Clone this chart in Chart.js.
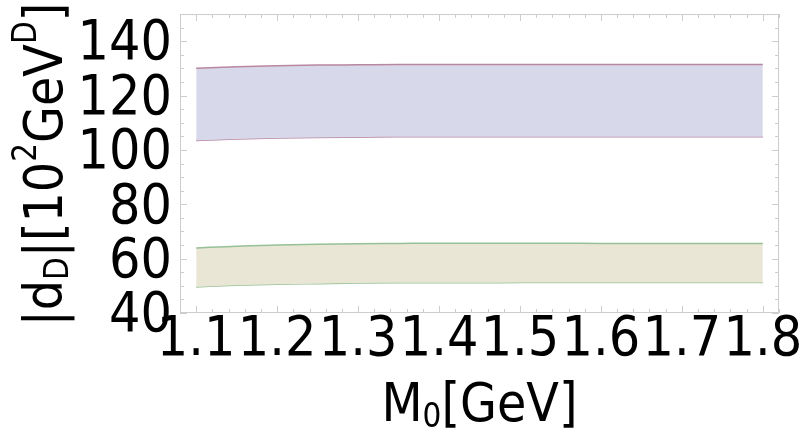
<!DOCTYPE html>
<html>
<head>
<meta charset="utf-8">
<script src="https://cdn.jsdelivr.net/npm/chart.js@4.4.1/dist/chart.umd.min.js"></script>
<style>
  html, body { margin: 0; padding: 0; background: #ffffff; }
  #wrap { width: 804px; height: 436px; }
</style>
</head>
<body>
<div id="wrap"><canvas id="c" width="804" height="436"></canvas></div>
<script>
// M0 values (GeV)
const mass = [1.10, 1.15, 1.20, 1.25, 1.30, 1.35, 1.40, 1.45, 1.50, 1.55, 1.60, 1.65, 1.70, 1.75, 1.80];

// |d_D| band, upper family (10^2 GeV^D)
const bandAUpper = [130.0, 130.6, 131.0, 131.2, 131.3, 131.4, 131.4, 131.4, 131.4, 131.4, 131.4, 131.4, 131.4, 131.4, 131.4];
const bandALower = [103.5, 104.0, 104.4, 104.6, 104.7, 104.8, 104.8, 104.8, 104.8, 104.8, 104.8, 104.8, 104.8, 104.8, 104.8];

// |d_D| band, lower family (10^2 GeV^D)
const bandBUpper = [63.9, 64.6, 65.0, 65.3, 65.5, 65.6, 65.7, 65.7, 65.7, 65.7, 65.6, 65.6, 65.6, 65.6, 65.6];
const bandBLower = [49.6, 50.2, 50.6, 50.8, 51.0, 51.1, 51.1, 51.1, 51.2, 51.2, 51.2, 51.2, 51.2, 51.2, 51.2];

// Axis ticks
const xTicks = [1.1, 1.2, 1.3, 1.4, 1.5, 1.6, 1.7, 1.8];
const yTicks = [40, 60, 80, 100, 120, 140];

const FONT = '"DejaVu Sans Condensed", "DejaVu Sans", sans-serif';
const FONT_SIZE = 55;
const TITLE_SIZE = 53;

const pts = (ys) => mass.map((m, i) => ({ x: m, y: ys[i] }));

// Frame with inward major/minor ticks on all four sides
const framePlugin = {
  id: 'frame',
  afterDatasetsDraw(chart) {
    const { ctx, chartArea: a, scales } = chart;
    const xs = scales.x, ys = scales.y;
    ctx.save();
    ctx.strokeStyle = 'rgb(205,205,205)';
    ctx.lineWidth = 1;
    ctx.strokeRect(a.left + 0.5, a.top + 0.5, a.right - a.left - 1, a.bottom - a.top - 1);
    ctx.beginPath();
    for (let v = 1.08; v <= 1.8201; v += 0.02) {
      const major = Math.abs(v * 10 - Math.round(v * 10)) < 1e-6;
      const len = major ? 7 : 4;
      const px = Math.round(xs.getPixelForValue(v)) + 0.5;
      ctx.moveTo(px, a.bottom); ctx.lineTo(px, a.bottom - len);
      ctx.moveTo(px, a.top); ctx.lineTo(px, a.top + len);
    }
    for (let v = 40; v <= 150; v += 5) {
      const major = v % 20 === 0;
      const len = major ? 7 : 4;
      const py = Math.round(ys.getPixelForValue(v)) + 0.5;
      ctx.moveTo(a.left, py); ctx.lineTo(a.left + len, py);
      ctx.moveTo(a.right, py); ctx.lineTo(a.right - len, py);
    }
    ctx.stroke();
    ctx.restore();
  }
};

// Axis titles with sub/superscripts
function drawRich(ctx, parts, x, y, size) {
  let total = 0;
  for (const p of parts) {
    const s = p.k ? size * 0.62 : size;
    ctx.font = `${s}px ${FONT}`;
    total += ctx.measureText(p.t).width;
  }
  let cx = x - total / 2;
  for (const p of parts) {
    const s = p.k ? size * 0.62 : size;
    ctx.font = `${s}px ${FONT}`;
    let dy = 0;
    if (p.k === 'sub') dy = size * 0.22;
    if (p.k === 'sup') dy = -size * 0.38;
    ctx.fillText(p.t, cx, y + dy);
    cx += ctx.measureText(p.t).width;
  }
}

const titlePlugin = {
  id: 'titles',
  afterDraw(chart) {
    const { ctx, chartArea: a } = chart;
    ctx.save();
    ctx.fillStyle = '#000';
    ctx.textBaseline = 'middle';
    ctx.textAlign = 'left';
    // x title
    drawRich(ctx, [
      { t: 'M' }, { t: '0', k: 'sub' }, { t: '[GeV]' }
    ], (a.left + a.right) / 2, 407, TITLE_SIZE);
    // y title
    ctx.translate(48, (a.top + a.bottom) / 2 + 1);
    ctx.rotate(-Math.PI / 2);
    drawRich(ctx, [
      { t: '|d' }, { t: 'D', k: 'sub' }, { t: '|[10' }, { t: '2', k: 'sup' },
      { t: 'GeV' }, { t: 'D', k: 'sup' }, { t: ']' }
    ], 0, 0, TITLE_SIZE);
    ctx.restore();
  }
};

const purpleEdge = 'rgb(185,135,160)';
const purpleFill = 'rgb(216,216,235)';
const greenEdge = 'rgb(150,192,150)';
const greenFill = 'rgb(233,230,214)';

new Chart(document.getElementById('c'), {
  type: 'line',
  data: {
    datasets: [
      { data: pts(bandAUpper), borderColor: purpleEdge, backgroundColor: purpleFill, fill: '+1', borderWidth: 1.5 },
      { data: pts(bandALower), borderColor: purpleEdge, backgroundColor: purpleFill, fill: false, borderWidth: 1.5 },
      { data: pts(bandBUpper), borderColor: greenEdge, backgroundColor: greenFill, fill: '+1', borderWidth: 1.5 },
      { data: pts(bandBLower), borderColor: greenEdge, backgroundColor: greenFill, fill: false, borderWidth: 1.5 }
    ]
  },
  options: {
    responsive: false,
    animation: false,
    devicePixelRatio: 1,
    layout: { padding: { top: 14, right: 25, left: 0, bottom: 0 } },
    elements: { point: { radius: 0 }, line: { tension: 0, cubicInterpolationMode: 'monotone' } },
    plugins: { legend: { display: false }, tooltip: { enabled: false }, filler: { propagate: false } },
    scales: {
      x: {
        type: 'linear',
        min: 1.08, max: 1.82,
        afterBuildTicks: (s) => { s.ticks = xTicks.map(v => ({ value: v })); },
        afterFit: (s) => { s.height = 123; s.paddingLeft = 0; s.paddingRight = 0; },
        grid: { display: false, drawTicks: false },
        border: { display: false },
        ticks: {
          autoSkip: false, maxRotation: 0, padding: -5, color: '#000',
          font: { family: FONT, size: FONT_SIZE },
          callback: (v) => Number(v).toFixed(1)
        }
      },
      y: {
        type: 'linear',
        min: 40, max: 150,
        afterBuildTicks: (s) => { s.ticks = yTicks.map(v => ({ value: v })); },
        afterFit: (s) => { s.width = 180; s.paddingTop = 0; s.paddingBottom = 0; },
        grid: { display: false, drawTicks: false },
        border: { display: false },
        ticks: {
          autoSkip: false, padding: 8, labelOffset: 4, color: '#000',
          font: { family: FONT, size: FONT_SIZE },
          callback: (v) => String(v)
        }
      }
    }
  },
  plugins: [framePlugin, titlePlugin]
});
</script>
</body>
</html>
